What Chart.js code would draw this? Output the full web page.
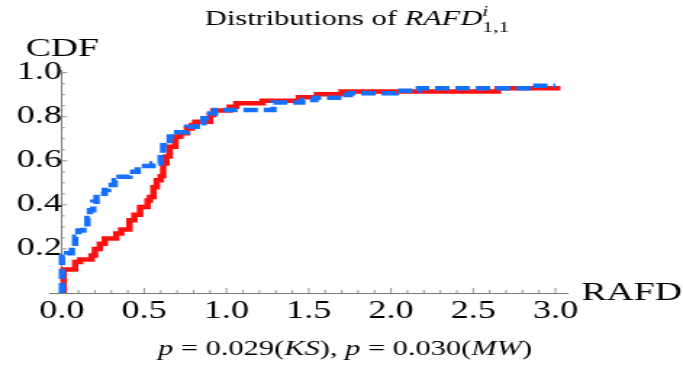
<!DOCTYPE html>
<html>
<head>
<meta charset="utf-8">
<script src="https://cdn.jsdelivr.net/npm/chart.js@4.4.0/dist/chart.umd.min.js"></script>
<style>
  html, body { margin: 0; padding: 0; background: #fff; }
</style>
</head>
<body>
<!-- the reference is a horizontally stretched render, so the canvas is drawn narrow and widened by its inline size -->
<canvas id="cdfChart" width="471" height="365" style="display:block;width:683px;height:365px"></canvas>
<script>
// Step points of the two empirical CDFs (x where the jump happens, level after it)
const redX = [0, 0.01, 0.08, 0.11, 0.18, 0.20, 0.23, 0.26, 0.33, 0.36, 0.41, 0.44, 0.475, 0.52, 0.535, 0.556, 0.576, 0.60, 0.615, 0.635, 0.655, 0.69, 0.72, 0.76, 0.79, 0.81, 0.90, 0.92, 1.02, 1.06, 1.22, 1.44, 1.55, 1.70, 2.65, 3.03];
const redY = [0, 0.107, 0.141, 0.152, 0.17, 0.20, 0.224, 0.247, 0.27, 0.288, 0.33, 0.355, 0.39, 0.42, 0.436, 0.48, 0.512, 0.53, 0.588, 0.62, 0.664, 0.709, 0.725, 0.747, 0.762, 0.777, 0.808, 0.828, 0.845, 0.861, 0.873, 0.888, 0.902, 0.914, 0.929, 0.929];

const blueX = [0, 0, 0.03, 0.06, 0.08, 0.10, 0.13, 0.155, 0.17, 0.19, 0.21, 0.23, 0.26, 0.28, 0.32, 0.35, 0.41, 0.46, 0.55, 0.60, 0.615, 0.655, 0.70, 0.76, 0.82, 0.86, 0.90, 0.93, 1.285, 1.46, 1.54, 1.71, 1.75, 2.03, 2.17, 2.85, 3.0];
const blueY = [0, 0.164, 0.18, 0.21, 0.255, 0.284, 0.30, 0.34, 0.376, 0.414, 0.436, 0.45, 0.467, 0.49, 0.512, 0.527, 0.55, 0.576, 0.588, 0.626, 0.67, 0.71, 0.73, 0.755, 0.77, 0.793, 0.815, 0.83, 0.865, 0.876, 0.886, 0.898, 0.906, 0.918, 0.929, 0.94, 0.94];

// Tick labels
const xTicks = [0, 0.5, 1.0, 1.5, 2.0, 2.5, 3.0];
const yTicks = [0.2, 0.4, 0.6, 0.8, 1.0];

const SERIF = '"Liberation Serif", "Times New Roman", serif';
const AXIS_GRAY = '#7a7a7a';

function toPoints(xs, ys) {
    return xs.map((x, i) => ({ x: x, y: ys[i] }));
}

// draws a row of text pieces (some italic, some raised/lowered) centred on cx
function drawRuns(ctx, runs, cx, baseline) {
    let total = 0;
    runs.forEach(r => {
        ctx.font = (r.it ? 'italic ' : '') + r.size + 'px ' + SERIF;
        r.w = ctx.measureText(r.t).width;
        if (!r.stack) total += r.w;
    });
    let x = cx - total / 2;
    let lastX = x;
    runs.forEach(r => {
        ctx.font = (r.it ? 'italic ' : '') + r.size + 'px ' + SERIF;
        if (r.stack) {
            ctx.fillText(r.t, lastX, baseline + (r.dy || 0));
        } else {
            lastX = x;
            ctx.fillText(r.t, x, baseline + (r.dy || 0));
            x += r.w;
        }
    });
}

// =====================
// Axes ticks (pointing inward) and the text around the plot
// =====================
const decorations = {
    id: 'decorations',
    afterDraw(chart) {
        const ctx = chart.ctx;
        const xs = chart.scales.x;
        const ys = chart.scales.y;
        const x0 = xs.getPixelForValue(0);
        const y0 = ys.getPixelForValue(0);

        ctx.save();
        ctx.strokeStyle = AXIS_GRAY;
        ctx.lineWidth = 0.8;
        ctx.beginPath();
        for (let k = 1; k <= 30; k++) {
            const px = xs.getPixelForValue(k / 10);
            const len = k % 5 === 0 ? 5 : 3;
            ctx.moveTo(px, y0);
            ctx.lineTo(px, y0 - len);
        }
        for (let k = 1; k <= 20; k++) {
            const py = ys.getPixelForValue(k * 0.05);
            const len = k % 4 === 0 ? 3.5 : 2;
            ctx.moveTo(x0, py);
            ctx.lineTo(x0 + len, py);
        }
        ctx.stroke();

        ctx.fillStyle = '#000';
        ctx.textBaseline = 'alphabetic';

        // axis names
        ctx.font = '26px ' + SERIF;
        ctx.textAlign = 'center';
        ctx.fillText('CDF', 43, 56);
        ctx.textAlign = 'left';
        ctx.fillText('RAFD', 401, 300);

        // title
        drawRuns(ctx, [
            { t: 'Distributions of ', size: 21 },
            { t: 'RAFD', size: 21, it: true },
            { t: 'i', size: 15, it: true, dy: -9 },
            { t: '1,1', size: 15, dy: 7, stack: true }
        ], 239, 25);

        // test results under the axis
        drawRuns(ctx, [
            { t: 'p', size: 21, it: true },
            { t: ' = 0.029(', size: 21 },
            { t: 'KS', size: 21, it: true },
            { t: '), ', size: 21 },
            { t: 'p', size: 21, it: true },
            { t: ' = 0.030(', size: 21 },
            { t: 'MW', size: 21, it: true },
            { t: ')', size: 21 }
        ], 238, 355);
        ctx.restore();
    }
};

const cdfCtx = document.getElementById('cdfChart');
new Chart(cdfCtx, {
    type: 'line',
    data: {
        datasets: [
            {
                label: 'blue',
                data: toPoints(blueX, blueY),
                stepped: true,
                borderColor: '#1670ff',
                borderWidth: 4.5,
                borderDash: [10, 4],
                pointRadius: 0,
                fill: false
            },
            {
                label: 'red',
                data: toPoints(redX, redY),
                stepped: true,
                borderColor: '#ff1010',
                borderWidth: 4.5,
                pointRadius: 0,
                fill: false
            }
        ]
    },
    options: {
        responsive: false,
        animation: false,
        layout: { padding: { left: 34, right: 80, top: 70, bottom: 42 } },
        plugins: {
            legend: { display: false },
            tooltip: { enabled: false },
            title: { display: false }
        },
        scales: {
            x: {
                type: 'linear',
                min: -0.077,
                max: 3.07,
                position: 'bottom',
                grid: { display: false, drawTicks: false },
                border: { display: true, color: AXIS_GRAY, width: 1 },
                afterBuildTicks: s => { s.ticks = xTicks.map(v => ({ value: v })); },
                afterFit: s => { s.height = 30; },
                ticks: {
                    color: '#000',
                    padding: 3,
                    maxRotation: 0,
                    font: { family: SERIF, size: 25 },
                    callback: v => v.toFixed(1)
                }
            },
            y: {
                type: 'linear',
                min: 0,
                max: 1.012,
                position: { x: 0 },
                grid: { display: false, drawTicks: false },
                border: { display: true, color: AXIS_GRAY, width: 1 },
                afterBuildTicks: s => { s.ticks = yTicks.map(v => ({ value: v })); },
                ticks: {
                    color: '#000',
                    padding: 5,
                    font: { family: SERIF, size: 25 },
                    callback: v => v.toFixed(1)
                }
            }
        }
    },
    plugins: [decorations]
});
</script>
</body>
</html>
